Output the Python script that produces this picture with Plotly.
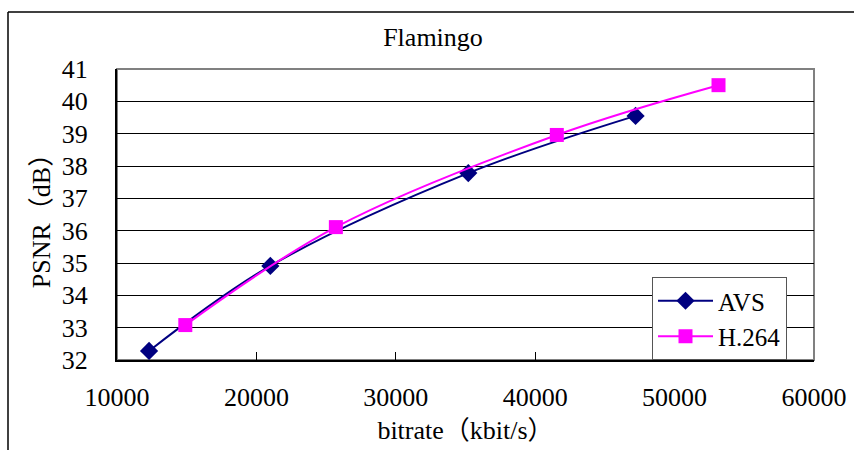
import plotly.graph_objects as go

avs_bitrate = [12300, 21000, 35200, 47200]
avs_psnr = [32.28, 34.91, 37.78, 39.55]
h264_bitrate = [14900, 25700, 41550, 53150]
h264_psnr = [33.08, 36.11, 38.96, 40.50]

x_ticks = [10000, 20000, 30000, 40000, 50000, 60000]
y_ticks = [32, 33, 34, 35, 36, 37, 38, 39, 40, 41]

FONT = "Liberation Serif, Noto Sans CJK SC, serif"

fig = go.Figure()
fig.add_trace(go.Scatter(
    x=avs_bitrate, y=avs_psnr, name="AVS", mode="lines+markers",
    line=dict(color="#000080", width=2, shape="spline"),
    marker=dict(symbol="diamond", size=14, color="#000080"),
))
fig.add_trace(go.Scatter(
    x=h264_bitrate, y=h264_psnr, name="H.264", mode="lines+markers",
    line=dict(color="#FF00FF", width=2, shape="spline"),
    marker=dict(symbol="square", size=14, color="#FF00FF"),
))

fig.update_layout(
    width=854, height=450,
    margin=dict(l=117, r=40, t=69, b=90, autoexpand=False),
    paper_bgcolor="white", plot_bgcolor="white",
    font=dict(family=FONT, size=25, color="black"),
    title=dict(text="Flamingo", x=433/854, xanchor="center", y=1-37/450, yanchor="middle",
               font=dict(family=FONT, size=26, color="black")),
    showlegend=True,
    legend=dict(x=(652-117)/697, y=(360-277)/291, xanchor="left", yanchor="top",
                bordercolor="#555555", borderwidth=1, bgcolor="white",
                font=dict(family=FONT, size=25, color="black"),
                itemwidth=55, tracegroupgap=0),
    shapes=[
        dict(type="rect", xref="paper", yref="paper", x0=0, x1=1, y0=0, y1=1,
             line=dict(color="#808080", width=2), layer="below"),
        dict(type="line", xref="paper", yref="paper", x0=(8-117)/697, x1=(860-117)/697,
             y0=(360-12)/291, y1=(360-12)/291, line=dict(color="black", width=1.5)),
        dict(type="line", xref="paper", yref="paper", x0=(8-117)/697, x1=(8-117)/697,
             y0=(360-12)/291, y1=(360-460)/291, line=dict(color="black", width=1.5)),
    ],
)

fig.update_xaxes(
    range=[10000, 60000], tickvals=x_ticks, ticktext=[str(v) for v in x_ticks],
    showgrid=False, zeroline=False, showline=True, linecolor="black", linewidth=2,
    ticks="inside", ticklen=8, tickcolor="black", tickwidth=1,
    ticklabelstandoff=13,
    tickfont=dict(family=FONT, size=26, color="black"),
    title=dict(text="bitrate（kbit/s）", font=dict(family=FONT, size=26, color="black"), standoff=10),
)
fig.update_yaxes(
    range=[32, 41], tickvals=y_ticks, ticktext=[str(v) for v in y_ticks],
    showgrid=True, gridcolor="black", gridwidth=1, zeroline=False,
    showline=True, linecolor="black", linewidth=2,
    ticks="", ticklabelstandoff=22,
    tickfont=dict(family=FONT, size=26, color="black"),
    title=dict(text="PSNR（dB）", font=dict(family=FONT, size=26, color="black"), standoff=4),
)

fig.write_html("out.html", config={"displayModeBar": False},
               post_script="document.body.style.margin='0';")
